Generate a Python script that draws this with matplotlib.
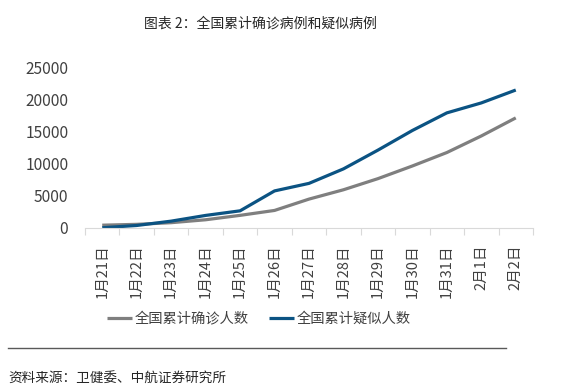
import matplotlib
matplotlib.use("Agg")
import matplotlib.pyplot as plt
import numpy as np

plt.rcParams['font.family'] = ['Noto Sans CJK SC', 'DejaVu Sans']

categories = ["1月21日", "1月22日", "1月23日", "1月24日", "1月25日", "1月26日", "1月27日",
              "1月28日", "1月29日", "1月30日", "1月31日", "2月1日", "2月2日"]
confirmed = [440, 571, 830, 1287, 1975, 2744, 4515, 5974, 7711, 9692, 11791, 14380, 17205]
suspected = [37, 393, 1072, 1965, 2684, 5794, 6973, 9239, 12167, 15238, 17988, 19544, 21558]
yticks = [0, 5000, 10000, 15000, 20000, 25000]

W, H = 571, 392
fig = plt.figure(figsize=(W/100, H/100), dpi=100)
ax = fig.add_axes([85/W, 1-228/H, (533-85)/W, (228-68)/H])

x = np.arange(len(categories))
gray = "#7f7f7f"
blue = "#0b5383"
ax.plot(x, confirmed, color=gray, lw=2.3, label="全国累计确诊人数", solid_capstyle='butt')
ax.plot(x, suspected, color=blue, lw=2.3, label="全国累计疑似人数", solid_capstyle='butt')

ax.set_xlim(-0.5, len(categories)-0.5)
ax.set_ylim(0, 25000)
ax.set_yticks(yticks)
ax.set_yticklabels([str(v) for v in yticks], fontsize=11.2, color="#404040")
ax.tick_params(axis='y', length=0, pad=12)

ax.set_xticks(x)
ax.set_xticklabels(categories, rotation=90, fontsize=10.5, color="#404040", va='top')
ax.tick_params(axis='x', which='major', length=0, pad=12)
ax.set_xticks(np.arange(-0.5, len(categories), 1), minor=True)
ax.tick_params(axis='x', which='minor', length=5, color="#d9d9d9", width=0.8)

for s in ['top', 'right', 'left']:
    ax.spines[s].set_visible(False)
ax.spines['bottom'].set_color("#d9d9d9")
ax.spines['bottom'].set_linewidth(0.8)

fig.text(260/W, 1-24/H, "图表 2：全国累计确诊病例和疑似病例", ha='center', va='center',
         fontsize=10, color="#262626")

leg = fig.legend(loc='center', bbox_to_anchor=(259/W, 1-319/H), ncol=2, frameon=False,
                 fontsize=10.3, handlelength=1.7, handletextpad=0.2, columnspacing=1.45,
                 labelcolor="#404040")

fig.add_artist(plt.Line2D([8/W, 506/W], [1-348/H, 1-348/H], color="#595959", lw=1.0))
fig.text(8/W, 1-379/H, "资料来源：卫健委、中航证券研究所", ha='left', va='center',
         fontsize=9.8, color="#262626")

fig.savefig("out.png", dpi=100)
